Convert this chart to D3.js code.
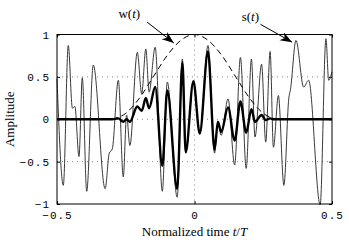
<!DOCTYPE html>
<html>
<head>
<meta charset="utf-8">
<script src="https://cdn.jsdelivr.net/npm/d3@7"></script>
<style>
  html, body { margin: 0; padding: 0; background: #fff; }
  .tick text { font-family: 'Liberation Mono', monospace; font-size: 11px; letter-spacing: 1px; fill: #000; }
  .lbl { font-family: 'Liberation Serif', serif; font-size: 13px; fill: #000; }
</style>
</head>
<body>
<div id="chart"></div>
<script>
// signal s(t) at its turning points
const tS = [-0.500, -0.477, -0.459, -0.444, -0.435, -0.420, -0.408, -0.392, -0.368, -0.325,
  -0.310, -0.299, -0.277, -0.259, -0.247, -0.235, -0.208, -0.192, -0.177, -0.165,
  -0.143, -0.117, -0.099, -0.063, -0.044, -0.032, -0.004, 0.019, 0.049, 0.073,
  0.085, 0.097, 0.122, 0.146, 0.167, 0.188, 0.207, 0.220, 0.244, 0.259,
  0.275, 0.287, 0.305, 0.325, 0.343, 0.349, 0.369, 0.397, 0.415, 0.457,
  0.478, 0.488, 0.500]
const sVals = [0.48, -0.78, 0.87, 0.13, 0.15, -0.44, 0.49, -0.85, 0.64, -0.82,
  -0.40, -0.35, 0.46, -0.68, 0.05, -0.31, 0.79, 0.30, 0.83, 0.32,
  0.85, -0.85, 0.44, -0.92, 0.71, -0.40, 0.45, -0.17, 0.87, -0.40,
  -0.03, -0.19, 0.24, -0.54, 0.73, -0.58, 0.71, -0.21, 0.65, -0.27,
  0.80, -0.33, 0.28, -0.78, 0.25, 0.35, 0.93, 0.38, 0.46, -1.01,
  0.95, 0.46, 0.56]
// windowed signal (thick line), same time points
const swVals = [0, 0, 0, 0, 0, 0, 0, 0, 0, 0,
  0, 0, 0.01, -0.03, 0.00, -0.03, 0.15, 0.10, 0.25, 0.13,
  0.38, -0.55, 0.34, -0.82, 0.67, -0.39, 0.45, -0.17, 0.80, -0.36,
  -0.03, -0.15, 0.14, -0.25, 0.21, -0.16, 0.12, -0.03, 0.05, -0.01,
  0.01, 0, 0, 0, 0, 0, 0, 0, 0, 0,
  0, 0, 0]
// window w(t), dashed
const tW = [-0.30, -0.25, -0.20, -0.15, -0.10, -0.05, 0, 0.05, 0.10, 0.15, 0.20, 0.25, 0.30]
const wVals = [0, 0.07, 0.25, 0.50, 0.75, 0.93, 1, 0.93, 0.75, 0.50, 0.25, 0.07, 0]

const xTicks = [-0.5, 0, 0.5]
const yTicks = [-1, -0.5, 0, 0.5, 1]

const W = 349, H = 242
const margin = { top: 34.5, right: 17, bottom: 38, left: 57 }
const width = W - margin.left - margin.right
const height = H - margin.top - margin.bottom

const svg = d3.select('#chart')
  .append('svg')
  .attr('width', W)
  .attr('height', H)

const g = svg.append('g')
  .attr('transform', `translate(${margin.left}, ${margin.top})`)

const x = d3.scaleLinear().domain([-0.5, 0.5]).range([0, width])
const y = d3.scaleLinear().domain([-1, 1]).range([height, 0])

const fmt = d => d3.format('')(d).replace('-', '\u2212')

// dotted grid
g.append('g')
  .selectAll('line.gy')
  .data(yTicks.filter(d => Math.abs(d) < 1))
  .enter()
  .append('line')
  .attr('x1', 0).attr('x2', width)
  .attr('y1', d => y(d)).attr('y2', d => y(d))
  .attr('stroke', '#888')
  .attr('stroke-dasharray', '1,4')
g.append('g')
  .selectAll('line.gx')
  .data(xTicks.filter(d => Math.abs(d) < 0.5))
  .enter()
  .append('line')
  .attr('y1', 0).attr('y2', height)
  .attr('x1', d => x(d)).attr('x2', d => x(d))
  .attr('stroke', '#888')
  .attr('stroke-dasharray', '1,4')

// axes, ticks inward like matlab
g.append('g')
  .attr('transform', `translate(0, ${height})`)
  .call(d3.axisBottom(x).tickValues(xTicks).tickFormat(fmt).tickSize(-3).tickPadding(7))
g.append('g')
  .call(d3.axisTop(x).tickValues(xTicks).tickFormat('').tickSize(-3))
g.append('g')
  .call(d3.axisLeft(y).tickValues(yTicks).tickFormat(fmt).tickSize(-3).tickPadding(7))
g.append('g')
  .attr('transform', `translate(${width}, 0)`)
  .call(d3.axisRight(y).tickValues(yTicks).tickFormat('').tickSize(-3))
g.selectAll('.domain').remove()
g.selectAll('.tick line').attr('stroke', '#000')

// curves
const line = d3.line()
  .x(d => x(d[0]))
  .y(d => y(d[1]))
  .curve(d3.curveMonotoneX)

g.append('path')
  .datum(tS.map((t, i) => [t, sVals[i]]))
  .attr('fill', 'none')
  .attr('stroke', '#3a3a3a')
  .attr('stroke-width', 1)
  .attr('d', line)

g.append('path')
  .datum(tW.map((t, i) => [t, wVals[i]]))
  .attr('fill', 'none')
  .attr('stroke', '#000')
  .attr('stroke-width', 1)
  .attr('stroke-dasharray', '6,4')
  .attr('d', line)

g.append('path')
  .datum(tS.map((t, i) => [t, swVals[i]]))
  .attr('fill', 'none')
  .attr('stroke', '#000')
  .attr('stroke-width', 2.4)
  .attr('stroke-linejoin', 'round')
  .attr('d', line)

// box
g.append('rect')
  .attr('width', width)
  .attr('height', height)
  .attr('fill', 'none')
  .attr('stroke', '#000')
  .attr('stroke-width', 1)

// annotations
svg.append('defs').append('marker')
  .attr('id', 'head')
  .attr('markerUnits', 'userSpaceOnUse')
  .attr('markerWidth', 14).attr('markerHeight', 10)
  .attr('refX', 12).attr('refY', 4.5)
  .attr('orient', 'auto')
  .append('path')
  .attr('d', 'M0,0 L12,4.5 L0,9 L3.5,4.5 Z')
  .attr('fill', '#000')

const notes = [
  { name: 'w', tx: -0.237, ty: 1.19, ax: -0.172, ay: 1.145, bx: -0.075, by: 0.90 },
  { name: 's', tx: 0.203, ty: 1.155, ax: 0.24, ay: 1.12, bx: 0.355, by: 0.91 }
]
notes.forEach(n => {
  const t = g.append('text').attr('class', 'lbl')
    .attr('x', x(n.tx)).attr('y', y(n.ty))
    .attr('text-anchor', 'middle')
  t.append('tspan').text(n.name + '(')
  t.append('tspan').attr('font-style', 'italic').text('t')
  t.append('tspan').text(')')
  g.append('line')
    .attr('x1', x(n.ax)).attr('y1', y(n.ay))
    .attr('x2', x(n.bx)).attr('y2', y(n.by))
    .attr('stroke', '#000')
    .attr('stroke-width', 1)
    .attr('marker-end', 'url(#head)')
})

// axis titles
const xl = svg.append('text').attr('class', 'lbl')
  .attr('x', margin.left + width / 2).attr('y', 235.5)
  .attr('font-size', 14)
  .attr('text-anchor', 'middle')
xl.append('tspan').text('Normalized time ')
xl.append('tspan').attr('font-style', 'italic').text('t')
xl.append('tspan').text('/')
xl.append('tspan').attr('font-style', 'italic').text('T')

svg.append('text').attr('class', 'lbl')
  .attr('transform', `translate(14, ${margin.top + height / 2}) rotate(-90)`)
  .attr('font-size', 14.5)
  .attr('text-anchor', 'middle')
  .text('Amplitude')
</script>
</body>
</html>
